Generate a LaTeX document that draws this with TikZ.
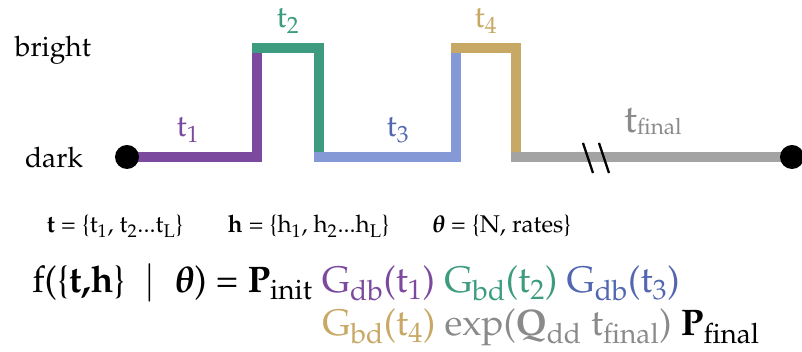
\documentclass[tikz,border=0pt]{standalone}
\usepackage[T1]{fontenc}
\usepackage{mathpazo}
\usepackage{bm}
\usetikzlibrary{positioning}
\usepackage{xcolor}

\definecolor{trpurple}{HTML}{7B4A9E}
\definecolor{trgreen}{HTML}{3D9B7F}
\definecolor{trblue}{HTML}{8599D6}
\definecolor{trbluetext}{HTML}{5267B0}
\definecolor{trtan}{HTML}{C8A865}
\definecolor{trgray}{HTML}{A3A3A3}
\definecolor{trgraytext}{HTML}{8A8A8A}

\begin{document}
\begin{tikzpicture}[
    x=0.025cm, y=-0.025cm,
    level/.style={font=\fontsize{20}{24}\selectfont, anchor=base},
    durlabel/.style={font=\fontsize{22}{26}\selectfont, anchor=base},
    setdef/.style={font=\fontsize{17.2}{20}\selectfont, anchor=base west},
    formula/.style={font=\fontsize{26.3}{30}\selectfont, anchor=base west, inner sep=0pt},
    seg/.style={line width=7pt, line cap=rect, line join=miter},
    dot/.style={circle, fill=black, inner sep=0pt, minimum size=0.6cm},
    breakmark/.style={line width=1.6pt, black}
]
\useasboundingbox (0,0) rectangle (802,352);

% state levels
\node (bright) [level] at (53,57) {bright};
\node (dark) [level] at (54,168) {dark};

% corners of the trajectory
\coordinate (start) at (127,157);
\coordinate (c1) at (257,157);
\coordinate (c2) at (257,48);
\coordinate (c3) at (319,48);
\coordinate (c4) at (319,157);
\coordinate (c5) at (456,157);
\coordinate (c6) at (456,48);
\coordinate (c7) at (516,48);
\coordinate (c8) at (516,157);
\coordinate (stop) at (792,157);

\draw [seg, trpurple] (start) -- (c1) -- (c2);
\draw [seg, trgreen] (c2) -- (c3) -- (c4);
\draw [seg, trblue] (c4) -- (c5) -- (c6);
\draw [seg, trtan] (c6) -- (c7) -- (c8);
\draw [seg, trgray] (c8) -- (stop);

\node (startdot) [dot] at (start) {};
\node (stopdot) [dot] at (stop) {};

% break in the last dwell
\draw [breakmark] (583,143) -- (593,173);
\draw [breakmark] (599,143) -- (609,173);

% dwell times
\node (t1) [durlabel, trpurple] at (188,137) {t\textsubscript{1}};
\node (t2) [durlabel, trgreen] at (288,28) {t\textsubscript{2}};
\node (t3) [durlabel, trbluetext] at (398,137) {t\textsubscript{3}};
\node (t4) [durlabel, trtan] at (486,28) {t\textsubscript{4}};
\node (tfinal) [durlabel, trgraytext, font=\fontsize{28}{30}\selectfont] at (653,133)
    {t\raisebox{-1pt}{\fontsize{16}{18}\selectfont final}};

% sets
\node (tset) [setdef] at (42,233) {\textbf{t} = \{t\textsubscript{1}, t\textsubscript{2}...t\textsubscript{L}\}};
\node (hset) [setdef] at (223,233) {\textbf{h} = \{h\textsubscript{1}, h\textsubscript{2}...h\textsubscript{L}\}};
\node (thetaset) [setdef] at (427,233) {$\bm{\theta}$ = \{N, rates\}};

% likelihood
\node (line1) [formula] at (32,293) {f(\{\textbf{t,h}\} ~$|$~ $\bm{\theta}$) = \textbf{P}\textsubscript{init}
    {\color{trpurple}G\textsubscript{db}(t\textsubscript{1})}
    {\color{trgreen}G\textsubscript{bd}(t\textsubscript{2})}
    {\color{trbluetext}G\textsubscript{db}(t\textsubscript{3})}};
\node (line2) [formula] at (322,336) {{\color{trtan}G\textsubscript{bd}(t\textsubscript{4})}
    {\color{trgraytext}exp(\textbf{Q}\textsubscript{dd} t\textsubscript{final})}
    \textbf{P}\textsubscript{final}};

\end{tikzpicture}
\end{document}
